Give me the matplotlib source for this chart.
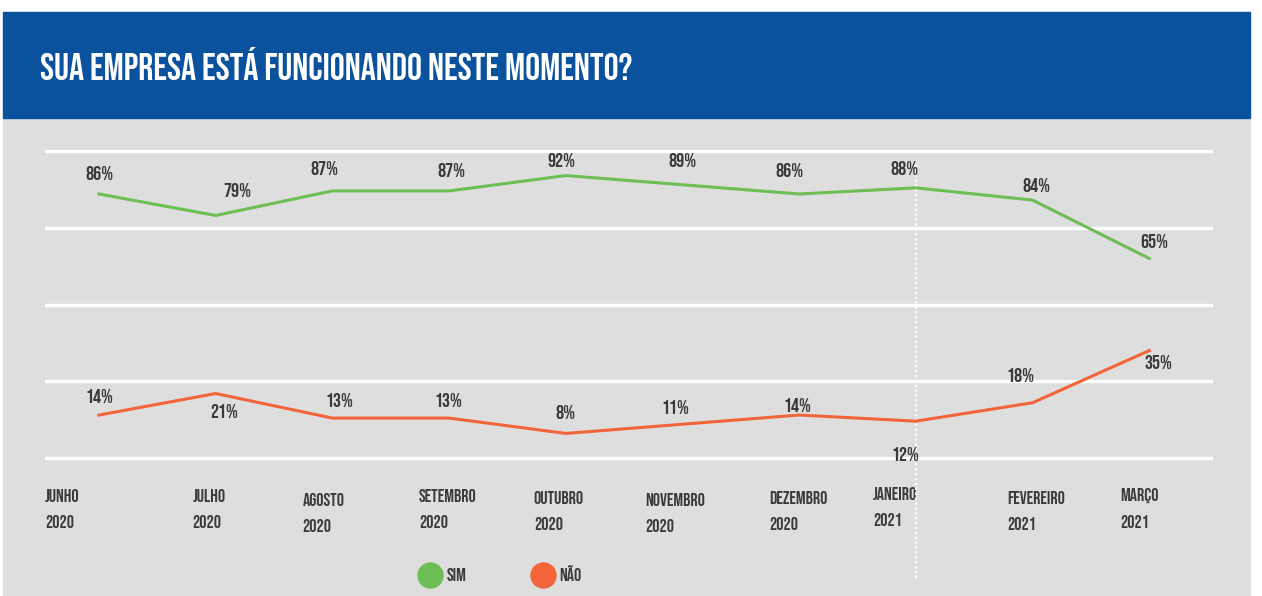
import matplotlib
matplotlib.use("Agg")
import matplotlib.pyplot as plt
from matplotlib.patches import Rectangle
from matplotlib.lines import Line2D

plt.rcParams['font.family'] = ['Bebas Neue', 'Oswald', 'DejaVu Sans']

# data
months = ["JUNHO", "JULHO", "AGOSTO", "SETEMBRO", "OUTUBRO",
          "NOVEMBRO", "DEZEMBRO", "JANEIRO", "FEVEREIRO", "MARÇO"]
years = ["2020", "2020", "2020", "2020", "2020", "2020", "2020", "2021", "2021", "2021"]
sim = [86, 79, 87, 87, 92, 89, 86, 88, 84, 65]
nao = [14, 21, 13, 13, 8, 11, 14, 12, 18, 35]

title = "SUA EMPRESA ESTÁ FUNCIONANDO NESTE MOMENTO?"

# label offsets in pixels (hand placed like the infographic)
sim_off = [(0, 21), (22, 25), (-8, 23), (2, 21), (-4, 16),
           (0, 25), (-10, 24), (-11, 20), (4, 15), (5, 17)]
nao_off = [(0, 19), (8, -17), (7, 18), (-1, 18), (0, 21),
           (-7, 17), (-2, 10), (-11, -33), (-12, 28), (9, -11)]
month_dx = [-54, -23, -30, -30, -32, -37, -30, -43, -25, -29]
month_dy = [-38, -38, -42, -38, -40, -42, -39, -36, -39, -37]

GREEN = "#6dbf55"
ORANGE = "#f2643a"
BLUE = "#0b529e"
GRAY = "#dedede"
TXT = "#3a3a3a"

W, H = 1262, 596
fig = plt.figure(figsize=(W / 100, H / 100), dpi=100)
fig.patch.set_facecolor("white")

# background panels
fig.add_artist(Rectangle((3 / W, 0), 1247 / W, (596 - 118) / H,
                         transform=fig.transFigure, color=GRAY, zorder=0))
fig.add_artist(Rectangle((3 / W, 1 - 118 / H), 1247 / W, 106 / H,
                         transform=fig.transFigure, color=BLUE, zorder=0))
fig.text(40 / W, 1 - 64 / H, title, color="white", fontsize=27,
         va="center", ha="left")

# axes mapped to the plotting region
left, right, top, bottom = 45, 1213, 140, 470
ax = fig.add_axes([left / W, 1 - bottom / H, (right - left) / W, (bottom - top) / H])
ax.set_facecolor("none")
ax.set_xlim((left - 99) / 116.7, (right - 99) / 116.7)
ax.set_ylim((458 - bottom) / 3.07, (458 - top) / 3.07)
for s in ax.spines.values():
    s.set_visible(False)
ax.set_xticks([])
ax.set_yticks([0, 25, 50, 75, 100])
ax.tick_params(length=0, labelleft=False)
ax.grid(axis="y", color="white", linewidth=2.4)
ax.set_axisbelow(True)

x = list(range(len(months)))
ax.axvline(7, ymin=0, ymax=1.0 - (165 - top) / (bottom - top), color="white",
           linestyle=(0, (1, 1.2)), linewidth=1.6, zorder=1)

ax.plot(x, sim, color=GREEN, linewidth=2.2, zorder=3)
ax.plot(x, nao, color=ORANGE, linewidth=2.2, zorder=3)

for i in x:
    ax.annotate(f"{sim[i]}%", (i, sim[i]), xytext=sim_off[i], textcoords="offset pixels",
                ha="center", va="center", fontsize=14.5, color=TXT)
    ax.annotate(f"{nao[i]}%", (i, nao[i]), xytext=nao_off[i], textcoords="offset pixels",
                ha="center", va="center", fontsize=14.5, color=TXT)
    ax.annotate(months[i], (i, 0), xytext=(month_dx[i], month_dy[i]), textcoords="offset pixels",
                ha="left", va="center", fontsize=13, color=TXT, annotation_clip=False)
    ax.annotate(years[i], (i, 0), xytext=(month_dx[i], month_dy[i] - 26), textcoords="offset pixels",
                ha="left", va="center", fontsize=13, color=TXT, annotation_clip=False)

# continue dotted divider down to the legend
fig.add_artist(Line2D([916 / W, 916 / W], [1 - 578 / H, 1 - bottom / H], transform=fig.transFigure,
                      color="white", linestyle=(0, (1, 1.2)), linewidth=1.6, zorder=1))

handles = [Line2D([], [], marker="o", linestyle="none", markersize=18, color=GREEN),
           Line2D([], [], marker="o", linestyle="none", markersize=18, color=ORANGE)]
fig.legend(handles, ["SIM", "NÃO"], loc="center", bbox_to_anchor=(500 / W, 1 - 573 / H),
           ncol=2, frameon=False, fontsize=13, handlelength=1.3, handletextpad=0.25,
           columnspacing=3.6, labelcolor=TXT)

fig.savefig("out.png", dpi=100)
